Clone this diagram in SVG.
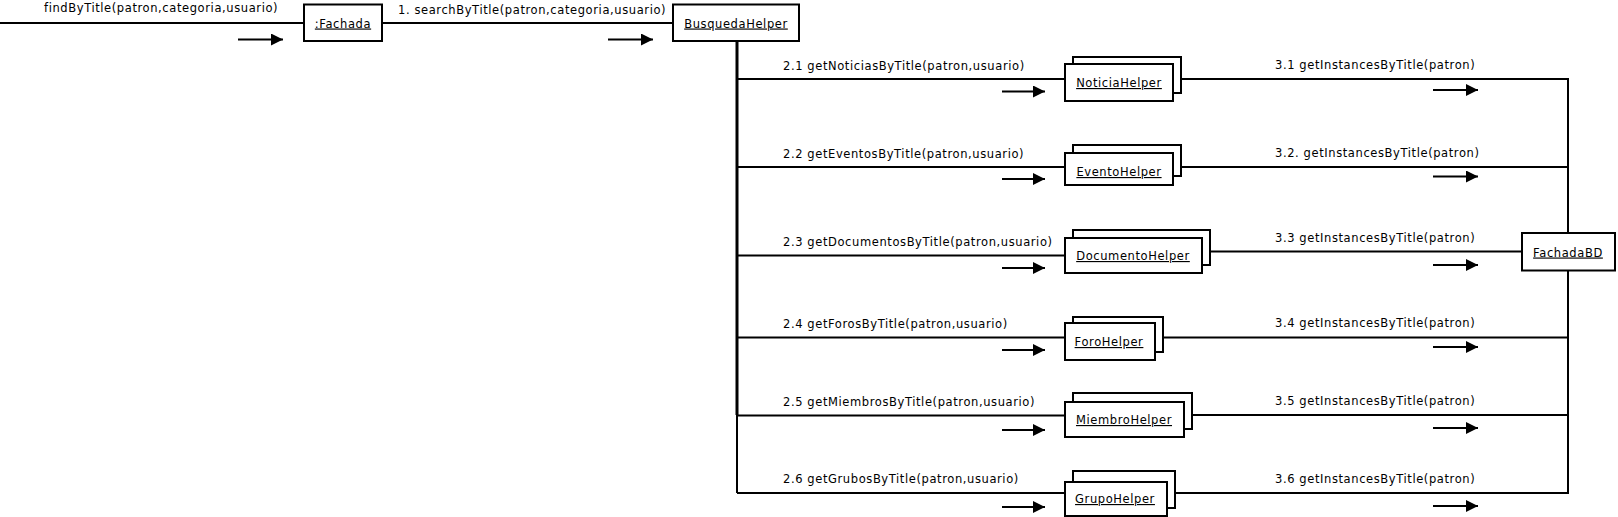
<svg xmlns="http://www.w3.org/2000/svg" width="1618" height="517" viewBox="0 0 1618 517">
<defs>
<marker id="ah" markerUnits="userSpaceOnUse" markerWidth="13" markerHeight="12" refX="12" refY="6" orient="auto">
<path d="M0,0 L12,6 L0,12 Z" fill="#000"/>
</marker>
<style>
text{font-family:"DejaVu Sans","Liberation Sans",sans-serif;font-size:11.5px;letter-spacing:0.6px;fill:#000}
.nm{text-anchor:middle;text-decoration:underline}
.box{fill:#fff;stroke:#000;stroke-width:2}
.ln{fill:none;stroke:#000;stroke-width:2}
.thick{stroke-width:3}
.ar{stroke:#000;stroke-width:2;marker-end:url(#ah)}
</style>
</defs>
<rect width="1618" height="517" fill="#fff"/>
<g id="connectors">
<path class="ln" d="M0,23 H304"/>
<path class="ln" d="M382,23 H673"/>
<path class="ln thick" d="M737,41 V415"/>
<path class="ln" d="M737,415 V493"/>
<path class="ln" d="M737,79 H1065"/>
<path class="ln" d="M737,167 H1065"/>
<path class="ln" d="M737,255.5 H1065"/>
<path class="ln" d="M737,337.5 H1065"/>
<path class="ln" d="M737,415.5 H1065"/>
<path class="ln" d="M737,493 H1065"/>
<path class="ln" d="M1181,79 H1568 V493 H1175"/>
<path class="ln" d="M1181,167 H1568"/>
<path class="ln" d="M1210,251.5 H1522"/>
<path class="ln" d="M1163,337.5 H1568"/>
<path class="ln" d="M1192,415 H1568"/>
<line class="ar" x1="238" y1="39.5" x2="283" y2="39.5"/>
<line class="ar" x1="608" y1="39.5" x2="653" y2="39.5"/>
<line class="ar" x1="1002" y1="91.5" x2="1045" y2="91.5"/>
<line class="ar" x1="1002" y1="179" x2="1045" y2="179"/>
<line class="ar" x1="1002" y1="268" x2="1045" y2="268"/>
<line class="ar" x1="1002" y1="350" x2="1045" y2="350"/>
<line class="ar" x1="1002" y1="430" x2="1045" y2="430"/>
<line class="ar" x1="1002" y1="507" x2="1045" y2="507"/>
<line class="ar" x1="1433" y1="90" x2="1478" y2="90"/>
<line class="ar" x1="1433" y1="176.5" x2="1478" y2="176.5"/>
<line class="ar" x1="1433" y1="265" x2="1478" y2="265"/>
<line class="ar" x1="1433" y1="347" x2="1478" y2="347"/>
<line class="ar" x1="1433" y1="428" x2="1478" y2="428"/>
<line class="ar" x1="1433" y1="506" x2="1478" y2="506"/>
<text x="44" y="12">findByTitle(patron,categoria,usuario)</text>
<text x="398" y="13.5">1. searchByTitle(patron,categoria,usuario)</text>
<text x="783" y="69.5">2.1 getNoticiasByTitle(patron,usuario)</text>
<text x="783" y="157.5">2.2 getEventosByTitle(patron,usuario)</text>
<text x="783" y="245.5">2.3 getDocumentosByTitle(patron,usuario)</text>
<text x="783" y="327.5">2.4 getForosByTitle(patron,usuario)</text>
<text x="783" y="405.5">2.5 getMiembrosByTitle(patron,usuario)</text>
<text x="783" y="483">2.6 getGrubosByTitle(patron,usuario)</text>
<text x="1275" y="68.5">3.1 getInstancesByTitle(patron)</text>
<text x="1275" y="157">3.2. getInstancesByTitle(patron)</text>
<text x="1275" y="241.5">3.3 getInstancesByTitle(patron)</text>
<text x="1275" y="327">3.4 getInstancesByTitle(patron)</text>
<text x="1275" y="405">3.5 getInstancesByTitle(patron)</text>
<text x="1275" y="482.5">3.6 getInstancesByTitle(patron)</text>
</g>
<g id="fachada">
<rect class="box" x="304" y="4.5" width="78" height="36.5"/>
<text class="nm" x="343" y="27.5">:Fachada</text>
</g>
<g id="busquedaHelper">
<rect class="box" x="673" y="4.5" width="126" height="36.5"/>
<text class="nm" x="736" y="27.5">BusquedaHelper</text>
</g>
<g id="noticiaHelper">
<rect class="box" x="1073" y="57" width="108" height="36"/>
<rect class="box" x="1065" y="64" width="108" height="37"/>
<text class="nm" x="1119" y="87">NoticiaHelper</text>
</g>
<g id="eventoHelper">
<rect class="box" x="1073" y="145" width="108" height="31"/>
<rect class="box" x="1065" y="153" width="108" height="32"/>
<text class="nm" x="1119" y="176">EventoHelper</text>
</g>
<g id="documentoHelper">
<rect class="box" x="1073" y="230" width="137" height="35"/>
<rect class="box" x="1065" y="238" width="137" height="35"/>
<text class="nm" x="1133" y="260">DocumentoHelper</text>
</g>
<g id="foroHelper">
<rect class="box" x="1073" y="317" width="90" height="35"/>
<rect class="box" x="1065" y="323" width="90" height="37"/>
<text class="nm" x="1109" y="346">ForoHelper</text>
</g>
<g id="miembroHelper">
<rect class="box" x="1073" y="393" width="119" height="36"/>
<rect class="box" x="1065" y="402" width="119" height="35"/>
<text class="nm" x="1124" y="424">MiembroHelper</text>
</g>
<g id="grupoHelper">
<rect class="box" x="1073" y="471" width="102" height="37"/>
<rect class="box" x="1065" y="482" width="102" height="34"/>
<text class="nm" x="1115" y="503">GrupoHelper</text>
</g>
<g id="fachadaBD">
<rect class="box" x="1522" y="233" width="93" height="37.5"/>
<text class="nm" x="1568" y="256.5">FachadaBD</text>
</g>
</svg>
